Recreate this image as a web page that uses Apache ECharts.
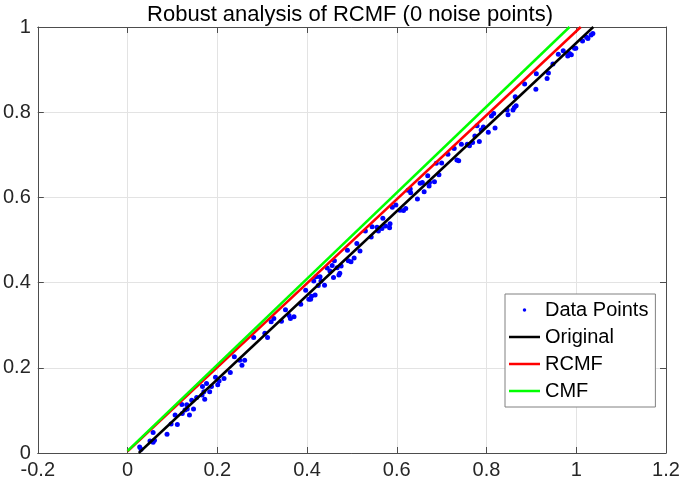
<!DOCTYPE html>
<html>
<head>
<meta charset="utf-8">
<script src="https://cdn.jsdelivr.net/npm/echarts@6/dist/echarts.min.js"></script>
<style>html,body{margin:0;padding:0;background:#fff}#c{width:685px;height:481px}</style>
</head>
<body>
<div id="c"></div>
<script>
var titleText = 'Robust analysis of RCMF (0 noise points)';
var xTicks = {min: -0.2, max: 1.2, interval: 0.2};
var yTicks = {min: 0, max: 1, interval: 0.2};
var seriesNames = ['Data Points', 'Original', 'RCMF', 'CMF'];

var dataPoints = [
[0.027,0.014],[0.030,0.009],[0.050,0.028],[0.057,0.025],[0.060,0.030],[0.057,0.048],[0.088,0.044],[0.097,0.068],[0.111,0.067],[0.106,0.089],[0.122,0.093],[0.128,0.101],[0.132,0.113],[0.121,0.114],[0.138,0.089],[0.147,0.103],[0.133,0.103],[0.143,0.124],[0.154,0.130],[0.166,0.136],[0.172,0.126],[0.170,0.144],[0.167,0.156],[0.176,0.163],[0.183,0.144],[0.187,0.156],[0.196,0.178],[0.201,0.160],[0.204,0.169],[0.215,0.175],[0.229,0.189],[0.238,0.226],[0.250,0.218],[0.255,0.206],[0.261,0.218],
[0.281,0.271],[0.306,0.281],[0.312,0.271],[0.320,0.308],[0.326,0.316],[0.343,0.309],[0.352,0.336],[0.360,0.323],[0.363,0.316],[0.371,0.320],[0.386,0.349],[0.397,0.382],[0.404,0.361],[0.408,0.361],[0.410,0.368],[0.418,0.371],[0.415,0.404],[0.420,0.414],[0.429,0.414],[0.425,0.393],[0.431,0.404],[0.439,0.394],[0.445,0.434],[0.451,0.427],[0.456,0.440],[0.459,0.412],[0.461,0.451],[0.467,0.435],[0.471,0.418],[0.473,0.422],[0.476,0.439],[0.490,0.476],[0.492,0.451],[0.498,0.449],[0.505,0.458],[0.511,0.492],[0.518,0.474],
[0.530,0.521],[0.543,0.507],[0.545,0.531],[0.556,0.530],[0.559,0.521],[0.567,0.527],[0.569,0.551],[0.575,0.533],[0.584,0.529],[0.585,0.538],[0.590,0.577],[0.598,0.582],[0.607,0.570],[0.615,0.569],[0.620,0.574],[0.625,0.617],[0.631,0.611],[0.630,0.620],[0.646,0.596],[0.652,0.633],[0.657,0.635],[0.661,0.613],[0.669,0.651],[0.672,0.627],[0.673,0.635],[0.684,0.637],[0.688,0.680],[0.694,0.653],[0.700,0.681],[0.714,0.701],[0.728,0.715],[0.734,0.688],[0.738,0.686],[0.744,0.725],[0.757,0.725],[0.762,0.721],[0.769,0.729],[0.774,0.744],[0.784,0.731],
[0.779,0.768],[0.793,0.765],[0.788,0.758],[0.804,0.753],[0.819,0.763],[0.811,0.791],[0.816,0.797],[0.846,0.805],[0.848,0.794],[0.859,0.805],[0.862,0.811],[0.866,0.815],[0.864,0.836],[0.885,0.866],[0.910,0.854],[0.911,0.890],[0.935,0.879],[0.938,0.892],[0.948,0.913],[0.960,0.936],[0.971,0.944],[0.981,0.932],[0.985,0.938],[0.989,0.935],[0.996,0.950],[0.999,0.950],[1.014,0.967],[1.023,0.976],[1.026,0.973],[1.033,0.981],[1.037,0.985]
];
var originalLine = [[0.025,0],[1.038,1]];
var rcmfLine = [[0.0,0.004],[1.010,1]];
var cmfLine = [[0.0,0.005],[0.985,1]];

var FONT = 'Liberation Sans, Arial, sans-serif';
var axisColor = '#4d4d4d';
var gridColor = '#e3e3e3';
var lineIcon = 'path://M0 0M31 20M0 8.75h31v2.5h-31z';
var dotIcon = 'path://M0 0M31 20M13.75 10a1.75 1.75 0 1 0 3.5 0a1.75 1.75 0 1 0 -3.5 0z';

function baseAxis(t, pos, labels, split) {
  return {
    type: 'value', position: pos, min: t.min, max: t.max, interval: t.interval,
    axisLine: {show: true, onZero: false, lineStyle: {color: axisColor, width: 1}},
    axisTick: {show: true, inside: true, length: 6, lineStyle: {color: axisColor}},
    axisLabel: {show: labels, fontSize: 20, fontFamily: FONT, color: '#262626', margin: 7},
    splitLine: {show: split, lineStyle: {color: gridColor, width: 1}}
  };
}

var chart = echarts.init(document.getElementById('c'), null, {renderer: 'canvas'});
chart.setOption({
  animation: false,
  backgroundColor: '#fff',
  title: {text: titleText, left: 345, top: -1, textAlign: 'center',
    textStyle: {fontSize: 22, fontWeight: 'normal', fontFamily: FONT, color: '#000'}},
  grid: {left: 35, right: 19, top: 27, bottom: 28, containLabel: false},
  xAxis: [baseAxis(xTicks, 'bottom', true, true), baseAxis(xTicks, 'top', false, false)],
  yAxis: [baseAxis(yTicks, 'left', true, true), baseAxis(yTicks, 'right', false, false)],
  legend: {
    orient: 'vertical', left: 505, top: 294, padding: [6, 7, 6, 4], itemGap: 7,
    itemWidth: 31, itemHeight: 20, selectedMode: false,
    backgroundColor: '#fff', borderColor: '#808080', borderWidth: 1, borderRadius: 0,
    textStyle: {fontSize: 20, fontFamily: FONT, color: '#000'},
    data: [
      {name: seriesNames[0], icon: dotIcon, itemStyle: {color: '#0000ff', borderWidth: 0, opacity: 1}},
      {name: seriesNames[1], icon: lineIcon, itemStyle: {color: '#000000', borderWidth: 0}},
      {name: seriesNames[2], icon: lineIcon, itemStyle: {color: '#ff0000', borderWidth: 0}},
      {name: seriesNames[3], icon: lineIcon, itemStyle: {color: '#00ff00', borderWidth: 0}}
    ]
  },
  series: [
    {name: seriesNames[0], type: 'scatter', data: dataPoints, symbolSize: 5,
      itemStyle: {color: '#0000ff', opacity: 1}, silent: true},
    {name: seriesNames[1], type: 'line', data: originalLine, symbol: 'none', clip: true,
      lineStyle: {color: '#000000', width: 2.5}, itemStyle: {color: '#000000'}, silent: true},
    {name: seriesNames[2], type: 'line', data: rcmfLine, symbol: 'none', clip: true,
      lineStyle: {color: '#ff0000', width: 2.5}, itemStyle: {color: '#ff0000'}, silent: true},
    {name: seriesNames[3], type: 'line', data: cmfLine, symbol: 'none', clip: true,
      lineStyle: {color: '#00ff00', width: 2.5}, itemStyle: {color: '#00ff00'}, silent: true}
  ]
});
</script>
</body>
</html>
